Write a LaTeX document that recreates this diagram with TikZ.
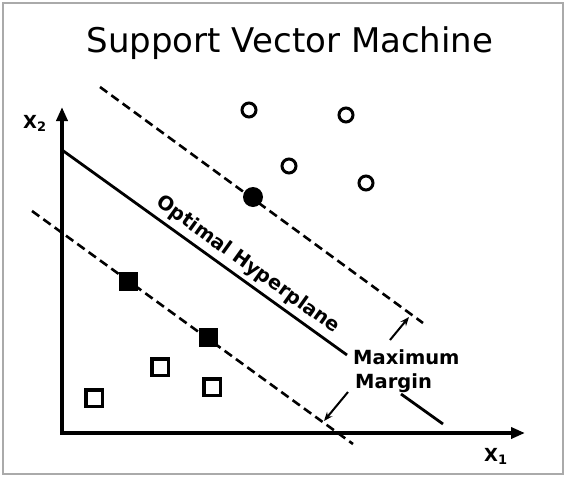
\documentclass[tikz,border=0pt]{standalone}
\usepackage{fontspec}
\setmainfont{DejaVu Sans}
\usetikzlibrary{arrows.meta}
\begin{document}
\begin{tikzpicture}[x=1pt,y=-1pt,
  axisline/.style={line width=3.6pt,-{Triangle[length=14pt,width=11pt]}},
  hyper/.style={line width=2.8pt},
  marginline/.style={line width=2.6pt,dash pattern=on 9pt off 5pt},
  marrow/.style={line width=2pt,-{Stealth[length=9pt,width=7pt]}},
  opencirc/.style={circle,draw,line width=3pt,minimum size=14pt,inner sep=0pt},
  fullcirc/.style={circle,fill,minimum size=20pt,inner sep=0pt},
  opensq/.style={rectangle,draw,line width=3.5pt,minimum size=16.5pt,inner sep=0pt},
  fullsq/.style={rectangle,fill,minimum size=19pt,inner sep=0pt},
  lbl/.style={inner sep=0pt,font=\fontsize{19.5}{19.5}\selectfont\bfseries},
  axlbl/.style={inner sep=0pt,font=\fontsize{18}{18}\selectfont\bfseries}]
\useasboundingbox (0,0) rectangle (566,477);
\draw[draw={rgb,255:red,170;green,170;blue,170},line width=1.5pt] (3,3) rectangle (563,474);
\node[inner sep=0pt,anchor=base,font=\fontsize{34}{34}\selectfont] (title) at (290,52) {Support Vector Machine};
% axes
\coordinate (O) at (62,433);
\coordinate (ytip) at (62,107);
\coordinate (xtip) at (525,433);
\draw[axisline] (O) -- (ytip);
\draw[axisline] ([xshift=-1.8pt]O) -- (xtip);
\node[axlbl,anchor=base west] (x2) at (23,128) {X\raisebox{-3pt}{\fontsize{13}{13}\selectfont\bfseries 2}};
\node[axlbl,anchor=base west] (x1) at (484,461) {X\raisebox{-3pt}{\fontsize{13}{13}\selectfont\bfseries 1}};
% hyperplane
\coordinate (h1) at (62,150);
\coordinate (h2) at (347,355);
\coordinate (h3) at (401,394);
\coordinate (h4) at (443,424);
\draw[hyper] (h1) -- (h2);
\draw[hyper] (h3) -- (h4);
% margins
\coordinate (u1) at (100,87);
\coordinate (u2) at (423,323);
\coordinate (l1) at (32,211);
\coordinate (l2) at (353,444);
\draw[marginline] (u1) -- (u2);
\draw[marginline] (l1) -- (l2);
% points
\node[opencirc] (c1) at (249,110) {};
\node[opencirc] (c2) at (346,115) {};
\node[opencirc] (c3) at (289,166) {};
\node[opencirc] (c4) at (366,183) {};
\node[fullcirc] (c5) at (253,197) {};
\node[fullsq] (s1) at (128,281) {};
\node[fullsq] (s2) at (208,337) {};
\node[opensq] (s3) at (94,398) {};
\node[opensq] (s4) at (160,367) {};
\node[opensq] (s5) at (212,387) {};
% labels
\node[lbl,rotate=-35.75] (opt) at (248,265) {Optimal Hyperplane};
\node[lbl,anchor=base west] (max) at (353,364) {Maximum};
\node[lbl,anchor=base west] (mar) at (355,388) {Margin};
\coordinate (a1s) at (390,340);
\coordinate (a1e) at (409,317);
\coordinate (a2s) at (348,392);
\coordinate (a2e) at (324,421);
\draw[marrow] (a1s) -- (a1e);
\draw[marrow] (a2s) -- (a2e);
\end{tikzpicture}
\end{document}
